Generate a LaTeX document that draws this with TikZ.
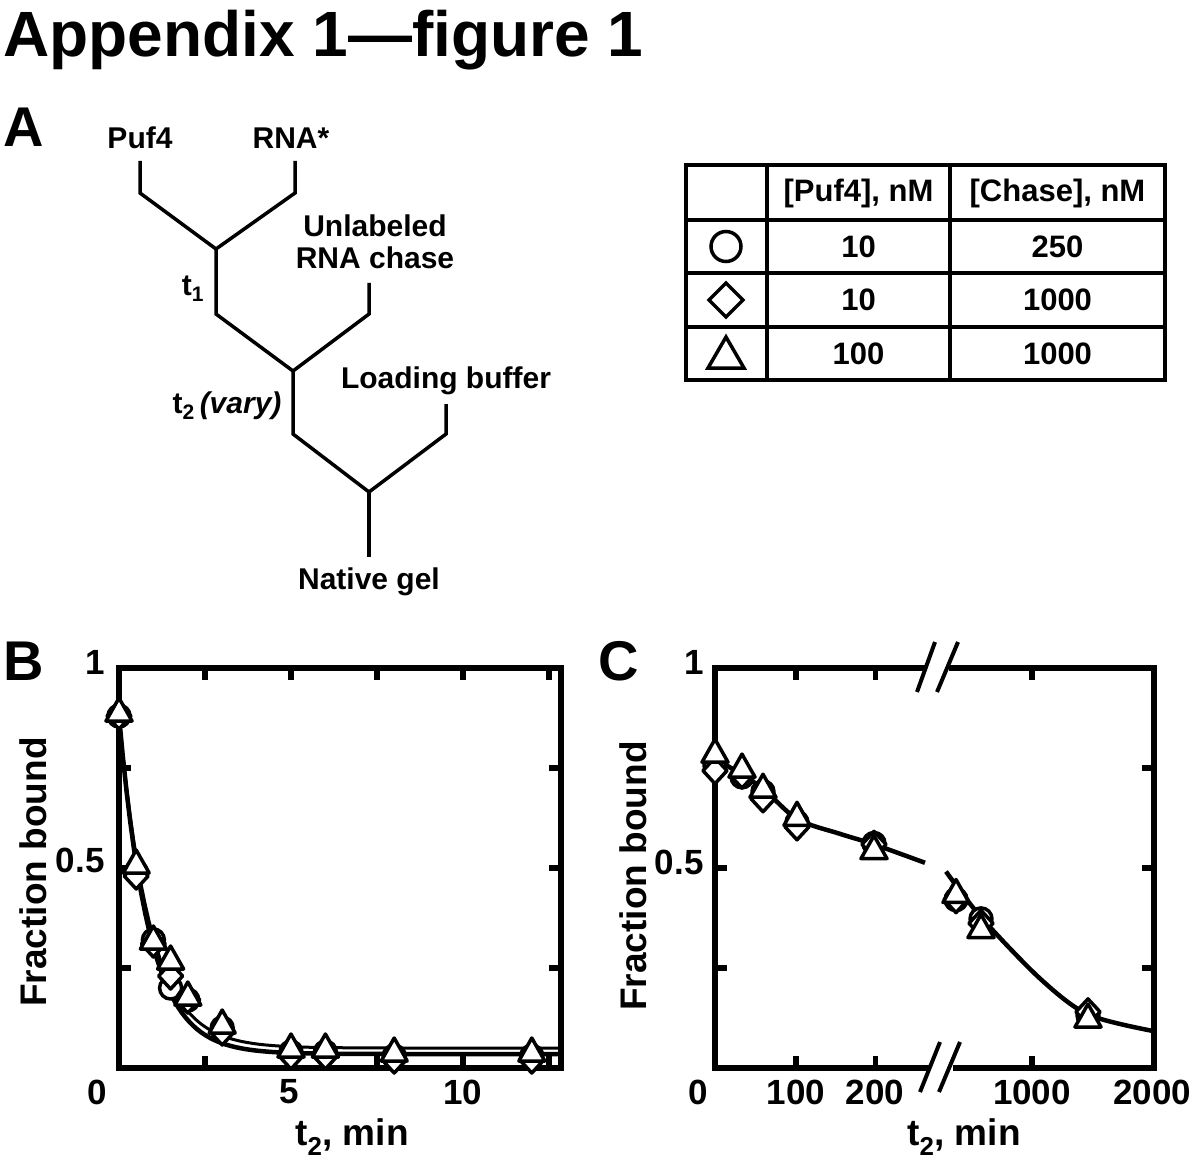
\documentclass[tikz,border=0pt]{standalone}
\usepackage{fontspec}
\setmainfont{Liberation Sans}
\newcommand\fs[1]{\fontsize{#1}{#1}\selectfont\bfseries}
\newcommand\mC[2]{\draw[mk] ({#1},{#2}) circle (11pt);}
\newcommand\mD[2]{\draw[mk] ({#1},{#2-13}) -- ({#1+12},{#2}) -- ({#1},{#2+13}) -- ({#1-12},{#2}) -- cycle;}
\newcommand\mT[2]{\draw[mk] ({#1},{#2-14}) -- ({#1+13},{#2+9}) -- ({#1-13},{#2+9}) -- cycle;}
\begin{document}
\begin{tikzpicture}[x=1pt,y=-1pt,
  tree/.style={line width=3.5pt},
  lab/.style={font=\fs{30}},
  tick/.style={font=\fs{35}},
  axl/.style={font=\fs{37}},
  frame/.style={line width=5.5pt},
  mk/.style={line width=3.5pt,fill=white,line join=round},
  crv/.style={line width=4.5pt},
  tbl/.style={line width=4pt}]
\useasboundingbox (0,0) rectangle (1200,1169);
% title
\node[anchor=base west,font=\fs{64},inner sep=0] (title) at (3,57) {Appendix 1---figure 1};
\node[anchor=base west,font=\fs{56},inner sep=0] (pA) at (3,147) {A};
\node[anchor=base west,font=\fs{56},inner sep=0] (pB) at (3,680) {B};
\node[anchor=base west,font=\fs{56},inner sep=0] (pC) at (598,680) {C};
% tree
\node[lab] (puf) at (140,138) {Puf4};
\node[lab] (rna) at (291,138) {RNA*};
\node[lab,align=center] (chase) at (375,242) {Unlabeled\\[2pt]RNA chase};
\node[lab] (load) at (446,381) {Loading buffer};
\node[lab] (gel) at (369,582) {Native gel};
\node[lab] (t1) at (193,289) {t\textsubscript{1}};
\node[lab,anchor=east] (t2) at (285,406) {t\textsubscript{2}\,\textit{(vary)}};
\coordinate (j1) at (216,249);
\coordinate (j2) at (293,371);
\coordinate (j3) at (369,492);
\draw[tree,line join=miter] (140,161) -- (140,193) -- (j1) -- (295,193) -- (295,161);
\draw[tree,line join=miter] (j1) -- (216,314) -- (j2) -- (369,314) -- (369,283);
\draw[tree,line join=miter] (j2) -- (293,434) -- (j3) -- (446,434) -- (446,404);
\draw[tree] (j3) -- (369,557);
% table
\draw[tbl] (686,165.5) rectangle (1165,380);
\foreach \yy in {220,273,327} \draw[tbl] (686,\yy) -- (1165,\yy);
\foreach \xx in {767,950} \draw[tbl] (\xx,165.5) -- (\xx,380);
\begin{scope}[font=\fs{31}]
\node (h1) at (858.5,193) {[Puf4], nM};
\node (h2) at (1057.5,193) {[Chase], nM};
\node (a1) at (858.5,246.5) {10};  \node (b1) at (1057.5,246.5) {250};
\node (a2) at (858.5,300) {10}; \node (b2) at (1057.5,300) {1000};
\node (a3) at (858.5,353.5) {100}; \node (b3) at (1057.5,353.5) {1000};
\end{scope}
\draw[line width=3.5pt] (726,246.5) circle (15pt);
\draw[line width=3.5pt,line join=miter] (726,283) -- (743,300) -- (726,317) -- (709,300) -- cycle;
\draw[line width=3.5pt,line join=miter] (726,337) -- (744,368) -- (708,368) -- cycle;
% ---------- panel B
\draw[frame] (119,668) rectangle (561,1068);
\foreach \t in {2.5,5,7.5,10,12.5} {\draw[frame] ({119+34.4*\t},668) -- +(0,12); \draw[frame] ({119+34.4*\t},1068) -- +(0,-12);}
\foreach \f in {0.25,0.5,0.75} {\draw[frame] (119,{1068-400*\f}) -- +(12,0); \draw[frame] (561,{1068-400*\f}) -- +(-12,0);}
\node[tick,anchor=east] (b1l) at (108,662) {1};
\node[tick,anchor=east] (b05) at (108,860) {0.5};
\node[tick] (b0) at (97,1092) {0};
\node[tick] (b5) at (289,1092) {5};
\node[tick] (b10) at (463,1092) {10};
\node[axl] (bx) at (352,1137) {t\textsubscript{2}, min};
\node[axl,rotate=90] (by) at (33,872) {Fraction bound};
\begin{scope}
\clip (119,668) rectangle (561,1068);
\draw[crv,domain=0:12.9,samples=120] plot ({119+34.4*\x},{1068-400*(0.035+0.845*exp(-1.15*\x))});
\draw[line width=3pt,domain=0:12.9,samples=120] plot ({119+34.4*\x},{1068-400*(0.05+0.83*exp(-1.1*\x))});
\end{scope}
\foreach \t/\a/\b/\c in {0/0.88/0.88/0.89,0.5/0.49/0.48/0.51,1/0.32/0.31/0.32,1.5/0.20/0.23/0.27,2/0.17/0.17/0.18,3/0.10/0.09/0.11,5/0.04/0.03/0.05,6/0.04/0.03/0.05,8/0.03/0.02/0.04,12/0.03/0.02/0.04} {
  \mC{119+34.4*\t}{1068-400*\a}
  \mD{119+34.4*\t}{1068-400*\b}
  \mT{119+34.4*\t}{1068-400*\c}
}
% ---------- panel C
\draw[frame] (715,668) rectangle (1154,1068);
\foreach \xx in {796,875.5,1032} {\draw[frame] (\xx,668) -- +(0,12); \draw[frame] (\xx,1068) -- +(0,-12);}
\foreach \f in {0.25,0.5,0.75} {\draw[frame] (715,{1068-400*\f}) -- +(12,0); \draw[frame] (1154,{1068-400*\f}) -- +(-12,0);}
\fill[white] (925,662) rectangle (949,674);
\fill[white] (929,1062) rectangle (953,1074);
\draw[line width=4pt] (917,692) -- (935,642);
\draw[line width=4pt] (937,692) -- (958,642);
\draw[line width=4pt] (920,1092) -- (940,1042);
\draw[line width=4pt] (939,1092) -- (960,1042);
\node[tick,anchor=east] (c1l) at (707,662) {1};
\node[tick,anchor=east] (c05) at (707,862) {0.5};
\node[tick] (c0) at (698,1092) {0};
\node[tick] (c100) at (796,1092) {100};
\node[tick] (c200) at (875,1092) {200};
\node[tick] (c1000) at (1032,1092) {1000};
\node[tick] (c2000) at (1152,1092) {2000};
\node[axl] (cx) at (964,1137) {t\textsubscript{2}, min};
\node[axl,rotate=90] (cy) at (633,876) {Fraction bound};
\draw[crv] plot[smooth] coordinates {(715,{1068-0.877*(1127-774)}) (760,{1068-0.877*(1127-806)}) (797,{1068-0.877*(1127-843)}) (840,{1068-0.877*(1127-860)}) (874,{1068-0.877*(1127-872)}) (925,{1068-0.877*(1127-893)})};
\draw[crv] plot[smooth] coordinates {(946,{1068-0.877*(1127-903)}) (981,{1068-0.877*(1127-955)}) (1040,{1068-0.877*(1127-1025)}) (1088,{1068-0.877*(1127-1066)}) (1154,{1068-0.877*(1127-1085)})};
\foreach \x/\a/\b/\c in {715/782/788/768,742/795/793/785,763/812/820/808,797/847/852/840,874/871/872/878,956/935/935/928,981/957/962/968,1088/1067/1063/1070} {
  \mC{\x}{1068-0.877*(1127-\a)}
  \mD{\x}{1068-0.877*(1127-\b)}
  \mT{\x}{1068-0.877*(1127-\c)}
}
\end{tikzpicture}
\end{document}
